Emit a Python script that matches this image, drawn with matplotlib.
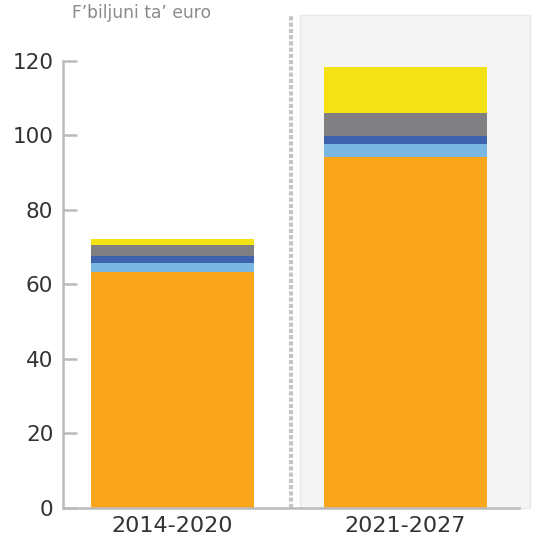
import matplotlib
matplotlib.use("Agg")
import matplotlib.pyplot as plt
import numpy as np

# periodi u komponenti (biljuni ta' euro)
periods = ["2014-2020", "2021-2027"]
orange = [63.4, 94.1]
light_blue = [2.4, 3.6]
dark_blue = [1.9, 2.2]
grey = [2.9, 6.1]
yellow = [1.6, 12.3]

colors = ["#F9A61C", "#7AB8E3", "#3F62AF", "#808083", "#F5E214"]
series = [orange, light_blue, dark_blue, grey, yellow]

fig = plt.figure(figsize=(5.34, 5.4), dpi=100)
ax = fig.add_axes([0.118, 0.0593, 0.854, 0.828])

x = np.arange(len(periods))

# sfond griż għall-perjodu l-ġdid
ax.axvspan(0.55, 1.536, ymin=0, ymax=132.3 / 120, facecolor="#F4F4F4",
           edgecolor="#E8E8E8", lw=1, clip_on=False, zorder=0)
ax.plot([0.511, 0.511], [0, 132.3], ls=(0, (1.0, 0.5)), color="#C4C4C4",
        lw=3, clip_on=False, zorder=1)

bottom = np.zeros(len(periods))
for vals, c in zip(series, colors):
    ax.bar(x, vals, width=0.70, bottom=bottom, color=c, zorder=2)
    bottom += np.array(vals)

ax.set_xlim(-0.468, 1.489)
ax.set_ylim(0, 120)
ax.set_yticks([0, 20, 40, 60, 80, 100, 120])
ax.set_xticks(x)
ax.set_xticklabels(periods)

for s in ["top", "right"]:
    ax.spines[s].set_visible(False)
for s in ["left", "bottom"]:
    ax.spines[s].set_color("#BBBBBB")
    ax.spines[s].set_linewidth(1.8)

ax.tick_params(axis="y", direction="in", length=10, width=1.8, color="#BBBBBB",
               labelsize=15.5, labelcolor="#333333", pad=7)
ax.tick_params(axis="x", length=0, labelsize=16, labelcolor="#333333", pad=6)
ax.patch.set_alpha(0)

fig.text(0.135, 0.976, "F\u2019biljuni ta\u2019 euro", fontsize=12.3,
         color="#8A8A8A", va="center", ha="left")

plt.savefig("out.png", dpi=100)
